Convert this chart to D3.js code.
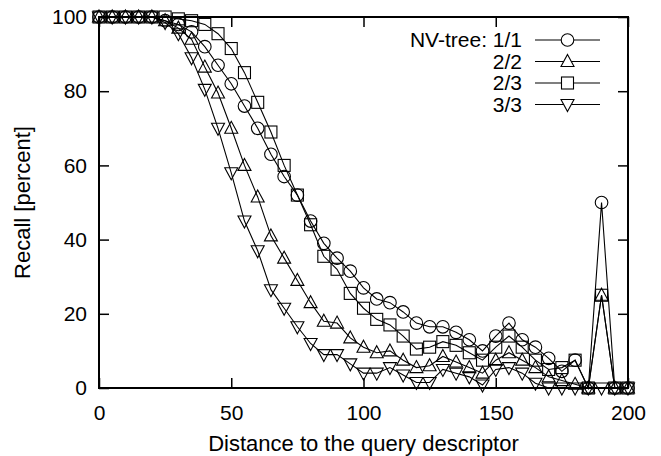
<!DOCTYPE html>
<html>
<head>
<meta charset="utf-8">
<script src="https://cdn.jsdelivr.net/npm/d3@7"></script>
<style>
  body { margin: 0; background: #fff; }
  text { font-family: "Liberation Sans", Arial, sans-serif; fill: #000; }
</style>
</head>
<body>
<div id="chart"></div>
<script>
// distance to the query descriptor
const dist = [0, 5, 10, 15, 20, 25, 30, 35, 40, 45, 50, 55, 60, 65, 70, 75, 80, 85, 90, 95,
  100, 105, 110, 115, 120, 125, 130, 135, 140, 145, 150, 155, 160, 165, 170, 175, 180, 185, 190, 195, 200];
// recall [percent] per NV-tree setting
const nv11 = [100, 100, 100, 100, 100, 99, 98, 96, 92, 87, 82, 76, 70, 63, 57, 52, 45, 39, 35, 31.5,
  27, 24, 23, 20.5, 17.5, 16.5, 16.5, 15, 13, 10, 14, 17.5, 13, 11, 8, 4.5, 7.5, 0, 50, 0, 0];
const nv22 = [100, 100, 100, 100, 100, 99, 97, 94, 86.5, 79.5, 70, 60, 51.5, 41, 35, 29, 23, 18, 17.5, 13.5,
  11, 9.5, 10, 7.5, 5.5, 6, 8.5, 7, 5.5, 4, 7.5, 9.5, 7.5, 5.5, 3, 2, 1, 0, 25, 0, 0];
const nv23 = [100, 100, 100, 100, 100, 100, 99.5, 99, 98, 95.5, 91.5, 85, 77, 69, 60, 52, 44, 35.5, 32, 25.5,
  21.5, 18.5, 17, 14, 10.5, 11, 12.5, 11.5, 9.5, 7.5, 11, 14, 11, 7.5, 5, 5.5, 7.5, 0, 25, 0, 0];
const nv33 = [100, 100, 100, 100, 100, 98.5, 95.5, 89, 80.5, 70, 58, 45, 37, 26.5, 21.5, 16.5, 12, 9, 9, 6.5,
  4, 4, 5.5, 3.5, 1.5, 1.5, 5, 4, 3, 0.8, 5, 5.5, 4, 1.3, 0, 0, 0, 0, 0, 0, 0];

const seriesNames = ["NV-tree: 1/1", "2/2", "2/3", "3/3"];
const seriesValues = [nv11, nv22, nv23, nv33];
const seriesSymbols = ["circle", "triangle", "square", "triangleDown"];

const xTicks = [0, 50, 100, 150, 200];
const yTicks = [0, 20, 40, 60, 80, 100];

const width = 661, height = 456;
const margin = { top: 17, right: 33, bottom: 68, left: 99 };
const plotW = width - margin.left - margin.right;
const plotH = height - margin.top - margin.bottom;

const svg = d3.select("#chart").append("svg")
  .attr("width", width)
  .attr("height", height);

const g = svg.append("g")
  .attr("transform", `translate(${margin.left},${margin.top})`);

const x = d3.scaleLinear().domain([0, 200]).range([0, plotW]);
const y = d3.scaleLinear().domain([0, 100]).range([plotH, 0]);

// hollow markers, gnuplot style
function marker(sel, type) {
  if (type === "circle") {
    sel.append("circle").attr("r", 6.3);
  } else if (type === "square") {
    sel.append("rect").attr("x", -6).attr("y", -6).attr("width", 12).attr("height", 12);
  } else if (type === "triangle") {
    sel.append("path").attr("d", "M0,-7L6.5,5L-6.5,5Z");
  } else {
    sel.append("path").attr("d", "M0,7L6.5,-5L-6.5,-5Z");
  }
}

const line = d3.line()
  .x(d => x(d.x))
  .y(d => y(d.y));

seriesValues.forEach((vals, i) => {
  const pts = dist.map((d, j) => ({ x: d, y: vals[j] }));
  const sg = g.append("g").attr("class", "series");
  sg.append("path")
    .datum(pts)
    .attr("d", line)
    .attr("fill", "none")
    .attr("stroke", "#000")
    .attr("stroke-width", 1.1);
  sg.selectAll(".pt")
    .data(pts)
    .join("g")
    .attr("class", "pt")
    .attr("transform", d => `translate(${x(d.x)},${y(d.y)})`)
    .call(marker, seriesSymbols[i]);
  sg.selectAll(".pt > *")
    .attr("fill", "none")
    .attr("stroke", "#000")
    .attr("stroke-width", 1.1);
});

// axes with inward ticks, mirrored on top/right
const tickLen = 10;
g.append("g")
  .attr("transform", `translate(0,${plotH})`)
  .call(d3.axisBottom(x).tickValues(xTicks).tickSize(-tickLen).tickPadding(tickLen + 7))
  .call(a => a.selectAll("text").attr("font-size", "21px"));
g.append("g")
  .call(d3.axisTop(x).tickValues(xTicks).tickSize(-tickLen).tickFormat(""));
g.append("g")
  .call(d3.axisLeft(y).tickValues(yTicks).tickSize(-tickLen).tickPadding(tickLen + 2))
  .call(a => a.selectAll("text").attr("font-size", "21px"));
g.append("g")
  .attr("transform", `translate(${plotW},0)`)
  .call(d3.axisRight(y).tickValues(yTicks).tickSize(-tickLen).tickFormat(""));

g.selectAll(".domain").remove();
g.selectAll(".tick line").attr("stroke", "#000").attr("stroke-width", 1.5);

// border
g.append("rect")
  .attr("width", plotW)
  .attr("height", plotH)
  .attr("fill", "none")
  .attr("stroke", "#000")
  .attr("stroke-width", 2);

// axis titles
svg.append("text")
  .attr("x", margin.left + plotW / 2)
  .attr("y", 451)
  .attr("text-anchor", "middle")
  .attr("font-size", "22px")
  .text("Distance to the query descriptor");

svg.append("text")
  .attr("transform", `translate(30,${margin.top + plotH / 2}) rotate(-90)`)
  .attr("text-anchor", "middle")
  .attr("font-size", "22px")
  .text("Recall [percent]");

// legend
const legend = g.append("g")
  .attr("class", "legend")
  .attr("transform", `translate(${423},${23})`);
const legendItem = legend.selectAll(".legend-item")
  .data(seriesNames)
  .join("g")
  .attr("class", "legend-item")
  .attr("transform", (d, i) => `translate(0,${i * 21.5})`);
legendItem.append("text")
  .attr("x", 0)
  .attr("y", 7)
  .attr("text-anchor", "end")
  .attr("font-size", "21px")
  .text(d => d);
legendItem.append("line")
  .attr("x1", 13).attr("x2", 78)
  .attr("stroke", "#000").attr("stroke-width", 1.1);
legendItem.each(function (d, i) {
  const m = d3.select(this).append("g").attr("transform", "translate(45.5,0)");
  marker(m, seriesSymbols[i]);
  m.selectAll("*").attr("fill", "#fff").attr("stroke", "#000").attr("stroke-width", 1.1);
});
</script>
</body>
</html>
